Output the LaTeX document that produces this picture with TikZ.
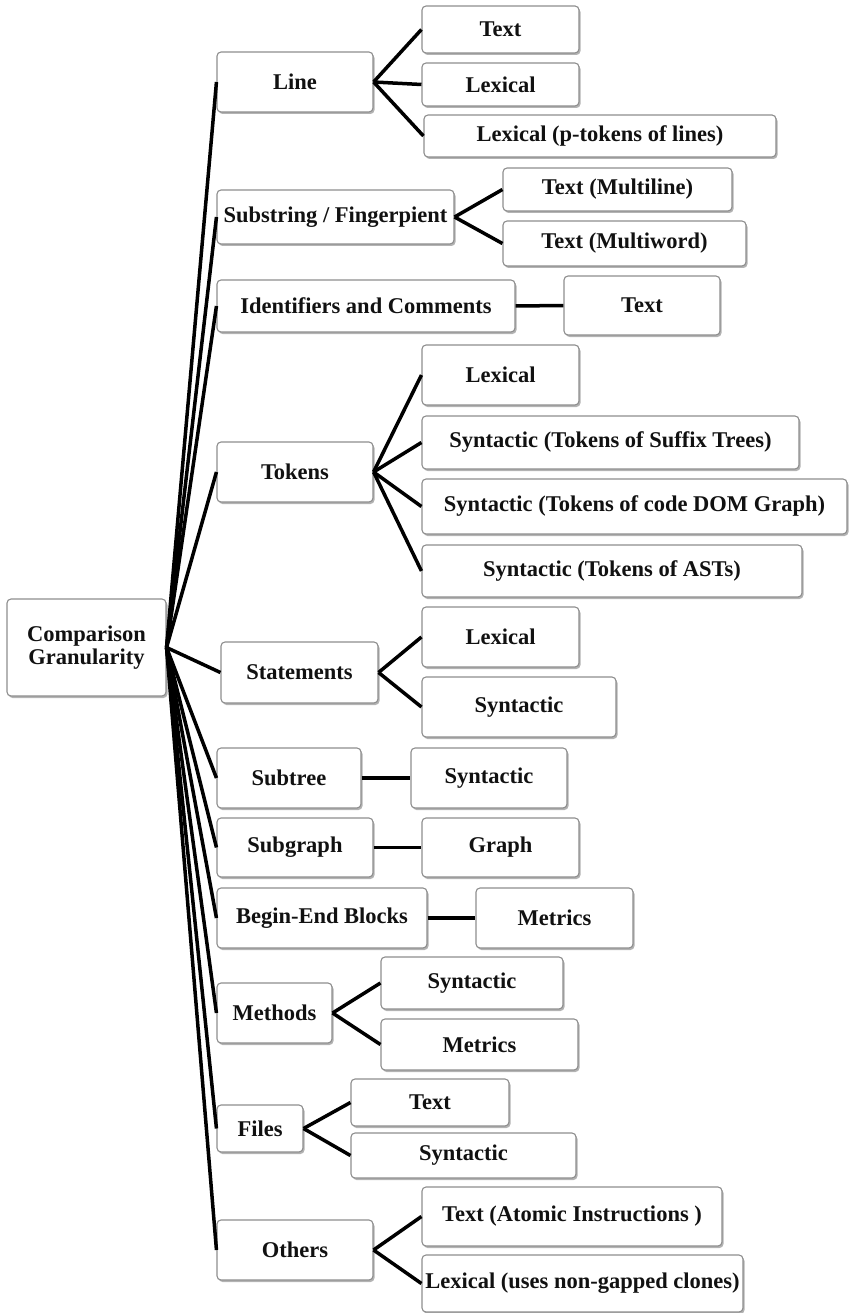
\documentclass[tikz,border=0pt]{standalone}
\usepackage{fontspec}
\setmainfont{Liberation Serif}
\usetikzlibrary{shadows}
\definecolor{boxline}{HTML}{8E8E8E}
\definecolor{txt}{HTML}{111111}
\tikzset{
  bx/.style={draw=boxline, line width=1.1pt, rounded corners=4pt, fill=white,
    inner sep=0pt, align=center, text=txt,
    font=\fontsize{22.5}{23.5}\selectfont\bfseries,
    drop shadow={shadow xshift=1.5pt, shadow yshift=-2pt, fill=black!50, opacity=0.6}},
  conn/.style={line width=3.5pt, black},
}
\newcommand\bxat[6]{\node[bx, minimum width=#4pt, minimum height=#5pt] (#1) at (#2,#3) {#6};}
\begin{document}
\begin{tikzpicture}[x=1pt,y=-1pt]
\useasboundingbox (0,0) rectangle (849,1313);
% root
\bxat{root}{86.5}{647.5}{159}{97}{Comparison\\Granularity}
% level 1
\bxat{line}{295}{82}{156}{60}{Line}
\bxat{subs}{335.5}{217}{237}{54}{Substring / Fingerpient}
\bxat{ident}{366}{306}{298}{52}{Identifiers and Comments}
\bxat{tok}{295}{472}{156}{60}{Tokens}
\bxat{stat}{299.5}{672.5}{157}{61}{Statements}
\bxat{subt}{289}{778}{144}{60}{Subtree}
\bxat{subg}{295}{847.5}{156}{59}{Subgraph}
\bxat{bgn}{322}{918}{210}{60}{Begin-End Blocks}
\bxat{meth}{274.5}{1013}{115}{60}{Methods}
\bxat{files}{260}{1128.5}{86}{47}{Files}
\bxat{oth}{295}{1250}{156}{60}{Others}
% level 2
\bxat{ltext}{500.5}{29.5}{157}{47}{Text}
\bxat{llex}{500.5}{84.5}{157}{43}{Lexical}
\bxat{lptok}{600}{136}{352}{42}{Lexical (p-tokens of lines)}
\bxat{smul}{617.5}{189.5}{229}{43}{Text (Multiline)}
\bxat{smw}{624.5}{243.5}{243}{45}{Text (Multiword)}
\bxat{itext}{642}{305.5}{156}{59}{Text}
\bxat{tlex}{500.5}{375}{157}{60}{Lexical}
\bxat{tsuf}{610.5}{442.5}{377}{53}{Syntactic (Tokens of Suffix Trees)}
\bxat{tdom}{634.5}{506.5}{425}{55}{Syntactic (Tokens of code DOM Graph)}
\bxat{tast}{612}{571}{380}{52}{Syntactic (Tokens of ASTs)}
\bxat{slex}{500.5}{637}{157}{60}{Lexical}
\bxat{ssyn}{519}{707}{194}{60}{Syntactic}
\bxat{sbsyn}{489}{778}{156}{60}{Syntactic}
\bxat{graph}{500.5}{847.5}{157}{59}{Graph}
\bxat{bmet}{554.5}{918}{157}{60}{Metrics}
\bxat{msyn}{472}{983}{182}{52}{Syntactic}
\bxat{mmet}{479.5}{1044.5}{197}{51}{Metrics}
\bxat{ftext}{430}{1102.5}{158}{47}{Text}
\bxat{fsyn}{463.5}{1155.5}{225}{45}{Syntactic}
\bxat{otext}{572}{1216.5}{300}{59}{Text (Atomic Instructions )}
\bxat{olex}{582.5}{1283.5}{321}{57}{Lexical (uses non-gapped clones)}
% connectors root
\foreach \n in {line,subs,ident,tok,stat,subt,subg,bgn,meth,files,oth}
  \draw[conn] (root.east) -- (\n.west);
% connectors level 2
\foreach \n in {ltext,llex,lptok} \draw[conn] (line.east) -- (\n.west);
\foreach \n in {smul,smw} \draw[conn] (subs.east) -- (\n.west);
\draw[conn] (ident.east) -- (itext.west);
\foreach \n in {tlex,tsuf,tdom,tast} \draw[conn] (tok.east) -- (\n.west);
\foreach \n in {slex,ssyn} \draw[conn] (stat.east) -- (\n.west);
\draw[conn] (subt.east) -- (sbsyn.west);
\draw[conn] (subg.east) -- (graph.west);
\draw[conn] (bgn.east) -- (bmet.west);
\foreach \n in {msyn,mmet} \draw[conn] (meth.east) -- (\n.west);
\foreach \n in {ftext,fsyn} \draw[conn] (files.east) -- (\n.west);
\foreach \n in {otext,olex} \draw[conn] (oth.east) -- (\n.west);
\end{tikzpicture}
\end{document}
